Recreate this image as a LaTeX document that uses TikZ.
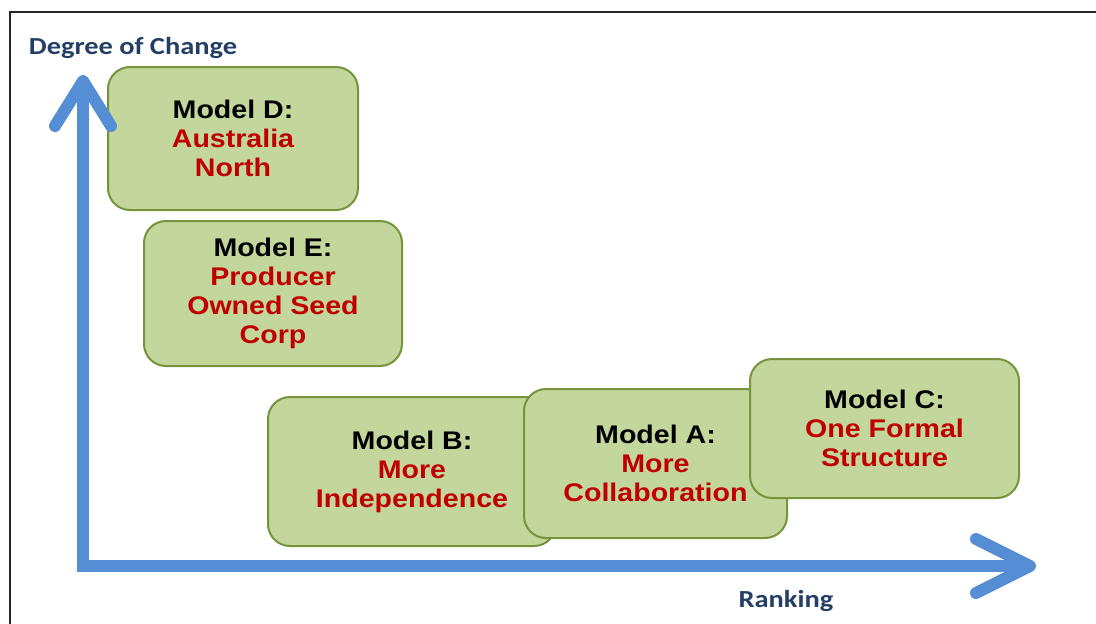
\documentclass[tikz,border=0pt]{standalone}
\usepackage{fontspec}
\newfontfamily\boxfont[FakeStretch=1.12]{Liberation Sans}
\newfontfamily\axisfont[FakeStretch=1.16]{Carlito}
\usetikzlibrary{positioning}

\definecolor{boxfill}{HTML}{C3D69B}
\definecolor{boxline}{HTML}{77933C}
\definecolor{modelred}{HTML}{C00000}
\definecolor{axisblue}{HTML}{558ED5}
\definecolor{labelblue}{HTML}{243F66}

\begin{document}
\begin{tikzpicture}[x=1pt, y=-1pt,
    model/.style={rectangle, rounded corners=22pt, draw=boxline, line width=2pt,
        fill=boxfill, align=center, inner sep=0pt,
        font=\boxfont\bfseries\fontsize{25.5}{29}\selectfont},
    axis/.style={draw=axisblue, line width=12pt},
    axislabel/.style={text=labelblue, font=\axisfont\bfseries\fontsize{24.5}{28}\selectfont}]
    \useasboundingbox (0,0) rectangle (1096,624);

    % Frame
    \draw[line width=2pt, black!85] (1096,12) -- (10,12) -- (10,624);

    % Model boxes
    \node (modelD) [model, minimum width=250, minimum height=143] at (233,138.5)
        {Model D:\\ \textcolor{modelred}{Australia}\\ \textcolor{modelred}{North}};
    \node (modelE) [model, minimum width=258, minimum height=145] at (273,293.5)
        {Model E:\\ \textcolor{modelred}{Producer}\\ \textcolor{modelred}{Owned Seed}\\ \textcolor{modelred}{Corp}};
    \node (modelB) [model, minimum width=288, minimum height=149] at (412,471.5)
        {Model B:\\ \textcolor{modelred}{More}\\ \textcolor{modelred}{Independence}};
    \node (modelA) [model, minimum width=263, minimum height=149] at (655.5,463.5)
        {Model A:\\ \textcolor{modelred}{More}\\ \textcolor{modelred}{Collaboration}};
    \node (modelC) [model, minimum width=269, minimum height=139] at (884.5,428.5)
        {Model C:\\ \textcolor{modelred}{One Formal}\\ \textcolor{modelred}{Structure}};

    % Axes
    \coordinate (origin) at (83,566);
    \coordinate (ytip) at (83,81);
    \coordinate (xtip) at (1030,566);
    \draw[axis] (ytip) -- (origin) -- (xtip);
    \draw[axis, line cap=round, line join=round]
        ([shift={(-28,45)}]ytip) -- (ytip) -- ([shift={(28,45)}]ytip);
    \draw[axis, line cap=round, line join=round]
        ([shift={(-54,-27)}]xtip) -- (xtip) -- ([shift={(-54,27)}]xtip);

    % Axis labels
    \node (ylabel) [axislabel] at (133,48) {Degree of Change};
    \node (xlabel) [axislabel] at (786,601) {Ranking};
\end{tikzpicture}
\end{document}
